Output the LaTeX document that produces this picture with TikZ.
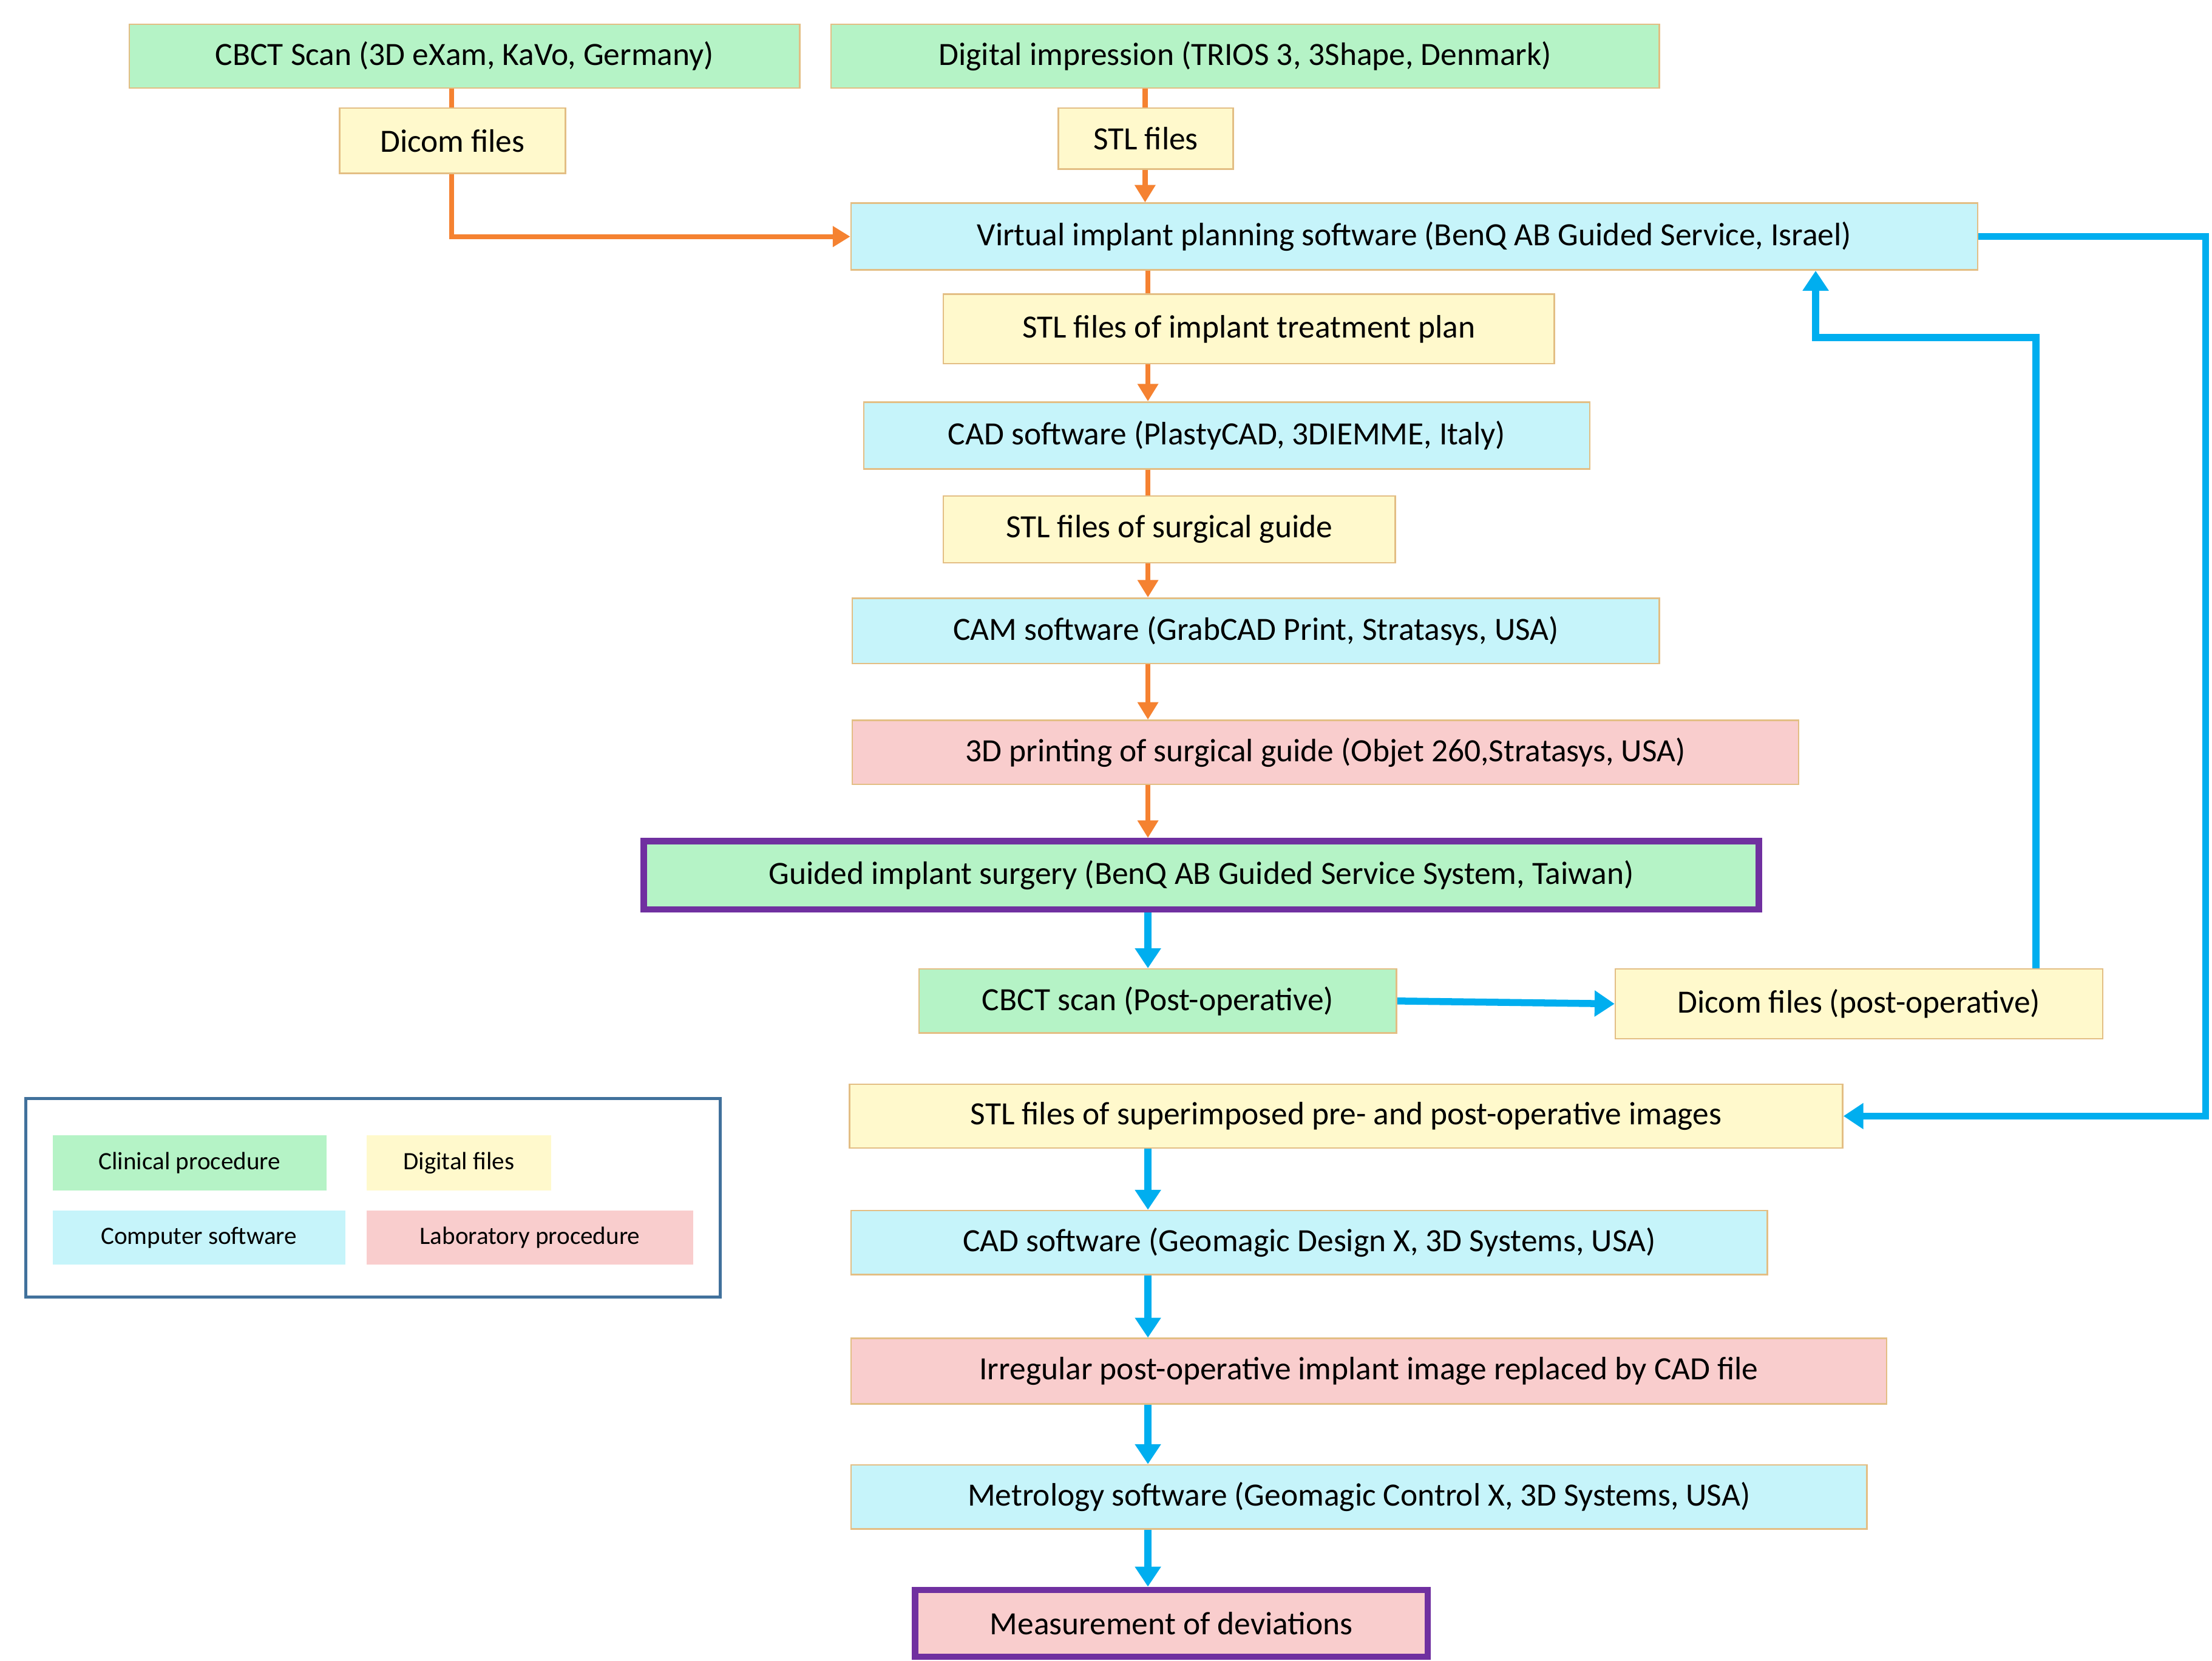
\documentclass[tikz,border=0pt]{standalone}
\usepackage{fontspec}
\setmainfont{Carlito}
\usetikzlibrary{arrows.meta}
\definecolor{gr}{HTML}{B5F3C6}
\definecolor{ye}{HTML}{FFF9CC}
\definecolor{cy}{HTML}{C6F4FA}
\definecolor{pk}{HTML}{F9CDCD}
\definecolor{bd}{HTML}{E3BE84}
\definecolor{og}{HTML}{F58231}
\definecolor{bl}{HTML}{00AEEF}
\definecolor{pu}{HTML}{7030A0}
\definecolor{lg}{HTML}{41719C}
\newcommand\bx[7]{\node[box,#6,minimum width={(#4-#2)*0.02cm},minimum height={(#5-#3)*0.02cm}] (#1) at ({(#2+#4)/2},{(#3+#5)/2}) {#7};}
\begin{document}
\begin{tikzpicture}[x=0.02cm,y=-0.02cm,
 box/.style={draw=bd,line width=0.6pt,inner sep=0pt,font=\fontsize{13}{15}\selectfont},
 G/.style={fill=gr},Y/.style={fill=ye},C/.style={fill=cy},P/.style={fill=pk},
 pur/.style={draw=pu,line width=2.6pt},
 lgd/.style={draw=none,font=\fontsize{10}{12}\selectfont},
 oa/.style={draw=og,line width=2pt},
 oarr/.style={oa,-{Triangle[length=7pt,width=8pt]}},
 ba/.style={draw=bl,line width=2.8pt},
 barr/.style={ba,-{Triangle[length=8pt,width=10pt]}}]
\useasboundingbox (0,0) rectangle (1557,1169);
\coordinate (c318) at (318,0);
\coordinate (c806) at (806,0);
\coordinate (c808) at (808,0);
\coordinate (c1278) at (1278,0);
\coordinate (c1433) at (1433,0);
\bx{cbct}{91}{17}{563}{62}{G}{CBCT Scan (3D eXam, KaVo, Germany)}
\bx{dig}{585}{17}{1168}{62}{G}{Digital impression (TRIOS 3, 3Shape, Denmark)}
\bx{dicom}{239}{76}{398}{122}{Y}{Dicom files}
\bx{stl}{745}{76}{868}{119}{Y}{STL files}
\bx{vip}{599}{143}{1392}{190}{C}{Virtual implant planning software (BenQ AB Guided Service, Israel)}
\bx{plan}{664}{207}{1094}{256}{Y}{STL files of implant treatment plan}
\bx{cad1}{608}{283}{1119}{330}{C}{CAD software (PlastyCAD, 3DIEMME, Italy)}
\bx{sg}{664}{349}{982}{396}{Y}{STL files of surgical guide}
\bx{cam}{600}{421}{1168}{467}{C}{CAM software (GrabCAD Print, Stratasys, USA)}
\bx{print}{600}{507}{1266}{552}{P}{3D printing of surgical guide (Objet 260,Stratasys, USA)}
\bx{gis}{453}{592}{1238}{640}{G,pur}{Guided implant surgery (BenQ AB Guided Service System, Taiwan)}
\bx{post}{647}{682}{983}{727}{G}{CBCT scan (Post-operative)}
\bx{dpost}{1137}{682}{1480}{731}{Y}{Dicom files (post-operative)}
\bx{sup}{598}{763}{1297}{808}{Y}{STL files of superimposed pre- and post-operative images}
\bx{cad2}{599}{852}{1244}{897}{C}{CAD software (Geomagic Design X, 3D Systems, USA)}
\bx{irr}{599}{942}{1328}{988}{P}{Irregular post-operative implant image replaced by CAD file}
\bx{met}{599}{1031}{1314}{1076}{C}{Metrology software (Geomagic Control X, 3D Systems, USA)}
\bx{meas}{644}{1119}{1005}{1166}{P,pur}{Measurement of deviations}
% legend
\node[draw=lg,line width=1.2pt,minimum width={489*0.02cm},minimum height={140*0.02cm}] (leg) at (262.5,843) {};
\bx{l1}{37}{799}{230}{838}{G,lgd}{Clinical procedure}
\bx{l2}{258}{799}{388}{838}{Y,lgd}{Digital files}
\bx{l3}{37}{852}{243}{890}{C,lgd}{Computer software}
\bx{l4}{258}{852}{488}{890}{P,lgd}{Laboratory procedure}
% orange connectors
\draw[oa] (cbct.south -| c318) -- (dicom.north -| c318);
\draw[oarr] (dicom.south -| c318) |- (vip.west);
\draw[oa] (dig.south -| c806) -- (stl.north -| c806);
\draw[oarr] (stl.south -| c806) -- (vip.north -| c806);
\draw[oa] (vip.south -| c808) -- (plan.north -| c808);
\draw[oarr] (plan.south -| c808) -- (cad1.north -| c808);
\draw[oa] (cad1.south -| c808) -- (sg.north -| c808);
\draw[oarr] (sg.south -| c808) -- (cam.north -| c808);
\draw[oarr] (cam.south -| c808) -- (print.north -| c808);
\draw[oarr] (print.south -| c808) -- (gis.north -| c808);
% blue connectors
\draw[barr] (gis.south -| c808) -- (post.north -| c808);
\draw[barr] (post.east) -- (dpost.west);
\draw[barr] (dpost.north -| c1433) -- ++(0,-444) -| (vip.south -| c1278);
\draw[barr] (vip.east) -- ++(160,0) |- (sup.east);
\draw[barr] (sup.south -| c808) -- (cad2.north -| c808);
\draw[barr] (cad2.south -| c808) -- (irr.north -| c808);
\draw[barr] (irr.south -| c808) -- (met.north -| c808);
\draw[barr] (met.south -| c808) -- (meas.north -| c808);
\end{tikzpicture}
\end{document}
